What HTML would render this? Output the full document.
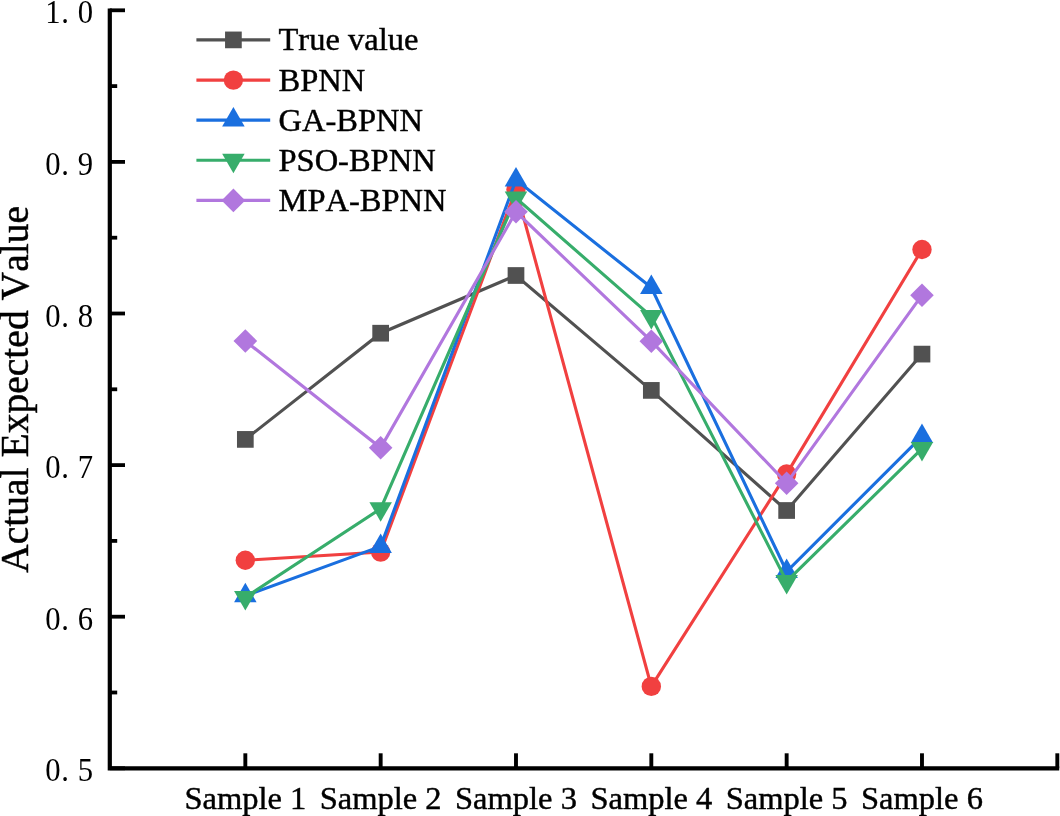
<!DOCTYPE html>
<html><head><meta charset="utf-8"><style>
html,body{margin:0;padding:0;background:#fff;width:1060px;height:816px;overflow:hidden}
svg{display:block;will-change:transform}
text{font-family:"Liberation Serif",serif;fill:#000;font-kerning:none;stroke:#000;stroke-width:0.45px}
.t{font-size:32.5px}
.xt{font-size:32.5px}
.yt{font-size:33px;stroke-width:0}
.ti{font-size:39.6px}
</style></head><body>
<svg width="1060" height="816" viewBox="0 0 1060 816">
<polyline points="245.33,439.40 380.66,333.20 515.99,275.50 651.32,390.40 786.65,510.50 921.98,354.10" fill="none" stroke="#515151" stroke-width="3.1" stroke-linejoin="miter"/>
<rect x="236.98" y="431.05" width="16.7" height="16.7" fill="#515151"/>
<rect x="372.31" y="324.85" width="16.7" height="16.7" fill="#515151"/>
<rect x="507.64" y="267.15" width="16.7" height="16.7" fill="#515151"/>
<rect x="642.97" y="382.05" width="16.7" height="16.7" fill="#515151"/>
<rect x="778.30" y="502.15" width="16.7" height="16.7" fill="#515151"/>
<rect x="913.63" y="345.75" width="16.7" height="16.7" fill="#515151"/>
<polyline points="245.33,560.25 380.66,552.10 515.99,189.50 651.32,686.40 786.65,473.90 921.98,249.50" fill="none" stroke="#F14040" stroke-width="3.1" stroke-linejoin="miter"/>
<circle cx="245.33" cy="560.25" r="9.7" fill="#F14040"/>
<circle cx="380.66" cy="552.10" r="9.7" fill="#F14040"/>
<circle cx="515.99" cy="189.50" r="9.7" fill="#F14040"/>
<circle cx="651.32" cy="686.40" r="9.7" fill="#F14040"/>
<circle cx="786.65" cy="473.90" r="9.7" fill="#F14040"/>
<circle cx="921.98" cy="249.50" r="9.7" fill="#F14040"/>
<polyline points="245.33,595.70 380.66,546.40 515.99,179.90 651.32,287.60 786.65,571.50 921.98,436.40" fill="none" stroke="#1A6FDF" stroke-width="3.1" stroke-linejoin="miter"/>
<path d="M245.33,582.71 L256.58,602.20 L234.08,602.20Z" fill="#1A6FDF"/>
<path d="M380.66,533.41 L391.91,552.90 L369.41,552.90Z" fill="#1A6FDF"/>
<path d="M515.99,166.91 L527.24,186.40 L504.74,186.40Z" fill="#1A6FDF"/>
<path d="M651.32,274.61 L662.57,294.10 L640.07,294.10Z" fill="#1A6FDF"/>
<path d="M786.65,558.51 L797.90,578.00 L775.40,578.00Z" fill="#1A6FDF"/>
<path d="M921.98,423.41 L933.23,442.90 L910.73,442.90Z" fill="#1A6FDF"/>
<polyline points="245.33,597.40 380.66,508.70 515.99,198.10 651.32,316.40 786.65,581.40 921.98,448.60" fill="none" stroke="#37AD6B" stroke-width="3.1" stroke-linejoin="miter"/>
<path d="M245.33,610.39 L256.58,590.90 L234.08,590.90Z" fill="#37AD6B"/>
<path d="M380.66,521.69 L391.91,502.20 L369.41,502.20Z" fill="#37AD6B"/>
<path d="M515.99,211.09 L527.24,191.60 L504.74,191.60Z" fill="#37AD6B"/>
<path d="M651.32,329.39 L662.57,309.90 L640.07,309.90Z" fill="#37AD6B"/>
<path d="M786.65,594.39 L797.90,574.90 L775.40,574.90Z" fill="#37AD6B"/>
<path d="M921.98,461.59 L933.23,442.10 L910.73,442.10Z" fill="#37AD6B"/>
<polyline points="245.33,341.00 380.66,447.80 515.99,211.80 651.32,341.20 786.65,483.20 921.98,295.20" fill="none" stroke="#B177DE" stroke-width="3.1" stroke-linejoin="miter"/>
<path d="M245.33,329.20 L257.13,341.00 L245.33,352.80 L233.53,341.00Z" fill="#B177DE"/>
<path d="M380.66,436.00 L392.46,447.80 L380.66,459.60 L368.86,447.80Z" fill="#B177DE"/>
<path d="M515.99,200.00 L527.79,211.80 L515.99,223.60 L504.19,211.80Z" fill="#B177DE"/>
<path d="M651.32,329.40 L663.12,341.20 L651.32,353.00 L639.52,341.20Z" fill="#B177DE"/>
<path d="M786.65,471.40 L798.45,483.20 L786.65,495.00 L774.85,483.20Z" fill="#B177DE"/>
<path d="M921.98,283.40 L933.78,295.20 L921.98,307.00 L910.18,295.20Z" fill="#B177DE"/>
<line x1="196.4" y1="39.9" x2="270.2" y2="39.9" stroke="#515151" stroke-width="3.1"/>
<rect x="225.05" y="31.55" width="16.7" height="16.7" fill="#515151"/>
<text x="278.5" y="50.4" class="t">True value</text>
<line x1="196.4" y1="80.1" x2="270.2" y2="80.1" stroke="#F14040" stroke-width="3.1"/>
<circle cx="233.40" cy="80.10" r="9.7" fill="#F14040"/>
<text x="278.5" y="90.6" class="t">BPNN</text>
<line x1="196.4" y1="120.1" x2="270.2" y2="120.1" stroke="#1A6FDF" stroke-width="3.1"/>
<path d="M233.40,107.11 L244.65,126.60 L222.15,126.60Z" fill="#1A6FDF"/>
<text x="278.5" y="130.6" class="t">GA-BPNN</text>
<line x1="196.4" y1="160.3" x2="270.2" y2="160.3" stroke="#37AD6B" stroke-width="3.1"/>
<path d="M233.40,173.29 L244.65,153.80 L222.15,153.80Z" fill="#37AD6B"/>
<text x="278.5" y="170.8" class="t">PSO-BPNN</text>
<line x1="196.4" y1="200.4" x2="270.2" y2="200.4" stroke="#B177DE" stroke-width="3.1"/>
<path d="M233.40,188.60 L245.20,200.40 L233.40,212.20 L221.60,200.40Z" fill="#B177DE"/>
<text x="278.5" y="210.9" class="t">MPA-BPNN</text>
<path d="M109.8,8.4 V768.3 H1059.2" fill="none" stroke="#000" stroke-width="4.2" stroke-linejoin="miter"/>
<line x1="109.8" y1="768.30" x2="125" y2="768.30" stroke="#000" stroke-width="3.8"/>
<text transform="translate(53.0,781.40) scale(0.93,1)" class="yt" text-anchor="middle">0</text>
<text transform="translate(65.1,781.40) scale(0.93,1)" class="yt" text-anchor="middle">.</text>
<text transform="translate(85.3,781.40) scale(0.93,1)" class="yt" text-anchor="middle">5</text>
<line x1="109.8" y1="692.50" x2="117.2" y2="692.50" stroke="#000" stroke-width="3.8"/>
<line x1="109.8" y1="616.70" x2="125" y2="616.70" stroke="#000" stroke-width="3.8"/>
<text transform="translate(53.0,629.80) scale(0.93,1)" class="yt" text-anchor="middle">0</text>
<text transform="translate(65.1,629.80) scale(0.93,1)" class="yt" text-anchor="middle">.</text>
<text transform="translate(85.3,629.80) scale(0.93,1)" class="yt" text-anchor="middle">6</text>
<line x1="109.8" y1="540.90" x2="117.2" y2="540.90" stroke="#000" stroke-width="3.8"/>
<line x1="109.8" y1="465.10" x2="125" y2="465.10" stroke="#000" stroke-width="3.8"/>
<text transform="translate(53.0,478.20) scale(0.93,1)" class="yt" text-anchor="middle">0</text>
<text transform="translate(65.1,478.20) scale(0.93,1)" class="yt" text-anchor="middle">.</text>
<text transform="translate(85.3,478.20) scale(0.93,1)" class="yt" text-anchor="middle">7</text>
<line x1="109.8" y1="389.30" x2="117.2" y2="389.30" stroke="#000" stroke-width="3.8"/>
<line x1="109.8" y1="313.50" x2="125" y2="313.50" stroke="#000" stroke-width="3.8"/>
<text transform="translate(53.0,326.60) scale(0.93,1)" class="yt" text-anchor="middle">0</text>
<text transform="translate(65.1,326.60) scale(0.93,1)" class="yt" text-anchor="middle">.</text>
<text transform="translate(85.3,326.60) scale(0.93,1)" class="yt" text-anchor="middle">8</text>
<line x1="109.8" y1="237.70" x2="117.2" y2="237.70" stroke="#000" stroke-width="3.8"/>
<line x1="109.8" y1="161.90" x2="125" y2="161.90" stroke="#000" stroke-width="3.8"/>
<text transform="translate(53.0,175.00) scale(0.93,1)" class="yt" text-anchor="middle">0</text>
<text transform="translate(65.1,175.00) scale(0.93,1)" class="yt" text-anchor="middle">.</text>
<text transform="translate(85.3,175.00) scale(0.93,1)" class="yt" text-anchor="middle">9</text>
<line x1="109.8" y1="86.10" x2="117.2" y2="86.10" stroke="#000" stroke-width="3.8"/>
<line x1="109.8" y1="10.30" x2="125" y2="10.30" stroke="#000" stroke-width="3.8"/>
<text transform="translate(53.0,23.40) scale(0.93,1)" class="yt" text-anchor="middle">1</text>
<text transform="translate(65.1,23.40) scale(0.93,1)" class="yt" text-anchor="middle">.</text>
<text transform="translate(85.3,23.40) scale(0.93,1)" class="yt" text-anchor="middle">0</text>
<line x1="245.33" y1="768.3" x2="245.33" y2="753.3" stroke="#000" stroke-width="3.9"/>
<text x="245.33" y="808.7" class="xt" text-anchor="middle">Sample 1</text>
<line x1="380.66" y1="768.3" x2="380.66" y2="753.3" stroke="#000" stroke-width="3.9"/>
<text x="380.66" y="808.7" class="xt" text-anchor="middle">Sample 2</text>
<line x1="515.99" y1="768.3" x2="515.99" y2="753.3" stroke="#000" stroke-width="3.9"/>
<text x="515.99" y="808.7" class="xt" text-anchor="middle">Sample 3</text>
<line x1="651.32" y1="768.3" x2="651.32" y2="753.3" stroke="#000" stroke-width="3.9"/>
<text x="651.32" y="808.7" class="xt" text-anchor="middle">Sample 4</text>
<line x1="786.65" y1="768.3" x2="786.65" y2="753.3" stroke="#000" stroke-width="3.9"/>
<text x="786.65" y="808.7" class="xt" text-anchor="middle">Sample 5</text>
<line x1="921.98" y1="768.3" x2="921.98" y2="753.3" stroke="#000" stroke-width="3.9"/>
<text x="921.98" y="808.7" class="xt" text-anchor="middle">Sample 6</text>
<line x1="1057.31" y1="768.3" x2="1057.31" y2="753.3" stroke="#000" stroke-width="3.9"/>
<text transform="translate(28.2,389.4) rotate(-90)" class="ti" text-anchor="middle">Actual Expected Value</text>
</svg>
</body></html>
